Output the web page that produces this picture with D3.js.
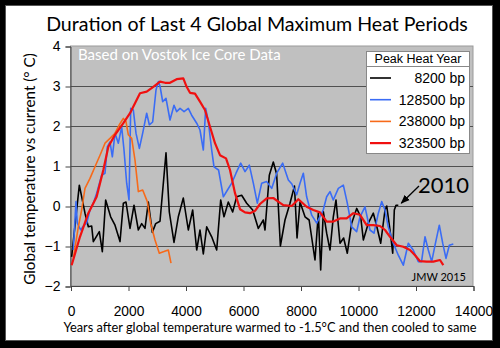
<!DOCTYPE html>
<html>
<head>
<meta charset="utf-8">
<script src="https://cdn.jsdelivr.net/npm/d3@7"></script>
<style>
  body { margin: 0; background: #000; }
  svg { display: block; }
</style>
</head>
<body>
<div id="chart"></div>
<script>
// DATA  [years after warming, temperature vs current]

const seriesNames = ["8200 bp", "128500 bp", "238000 bp", "323500 bp"]
const seriesColors = ["#000000", "#3a6cf5", "#f76a1a", "#f01010"]

const heat8200 = [[40,-1.27],[307,0.52],[504,-0.18],[620,-0.52],[736,-0.5],[794,-0.89],[1003,-0.64],[1107,-1.14],[1223,0.15],[1397,-0.27],[1548,-0.48],[1722,-0.89],[1838,0.07],[1930,0.1],[2070,-0.56],[2209,0.02],[2360,-0.6],[2476,-0.44],[2591,-0.56],[2707,0.1],[2846,-0.66],[2963,-0.44],[3113,-0.38],[3322,1.33],[3437,-0.15],[3600,-0.91],[3750,-0.27],[3924,0.2],[4098,-0.6],[4250,-0.1],[4390,-1.1],[4504,-0.6],[4620,-1.2],[4737,-0.52],[4911,-0.77],[5085,-1.1],[5224,0.15],[5339,-0.27],[5489,0.1],[5640,-0.15],[5780,0.23],[5953,0.27],[6128,0.07],[6337,-0.1],[6533,-0.56],[6707,-0.35],[6765,-0.6],[6915,0.77],[7054,1.1],[7170,0.8],[7300,-1.0],[7461,-0.35],[7635,0.07],[7790,0.5],[7880,-0.8],[7983,0.1],[8157,-0.27],[8300,-0.35],[8504,-1.35],[8620,-0.18],[8702,-1.6],[8794,-0.14],[8910,-0.68],[9026,-1.1],[9141,-0.27],[9235,0.15],[9374,-0.93],[9500,-0.8],[9628,-1.18],[9780,-0.43],[9954,-0.06],[10094,-0.27],[10186,-0.85],[10359,-0.43],[10533,-0.18],[10650,-0.5],[10790,-0.93],[10939,-0.1],[11000,0.0],[11113,-0.6],[11207,-1.18],[11263,-0.1],[11322,0.02],[11402,0.02]]

const heat128500 = [[98,-1.1],[191,0.11],[237,-0.43],[354,-0.6],[450,-0.5],[562,-0.43],[678,-0.1],[794,0.07],[910,0.32],[1084,0.77],[1200,0.82],[1281,1.48],[1374,1.6],[1455,1.23],[1548,1.82],[1664,1.57],[1780,1.98],[1861,1.4],[1954,0.57],[2035,0.15],[2094,2.44],[2185,2.4],[2278,1.82],[2395,1.44],[2511,1.82],[2650,2.32],[2742,2.03],[2858,2.1],[2974,2.9],[3055,3.11],[3113,3.0],[3206,2.61],[3322,2.69],[3461,2.15],[3600,2.52],[3693,2.36],[3810,2.44],[3950,2.36],[4098,2.44],[4214,2.27],[4390,2.07],[4504,1.9],[4620,1.4],[4702,2.44],[4794,2.11],[4911,1.4],[4991,0.98],[5150,0.9],[5316,0.23],[5460,0.4],[5607,0.57],[5757,0.82],[5920,1.07],[6070,0.86],[6220,1.02],[6359,0.57],[6498,0.07],[6650,0.57],[6824,0.61],[6998,0.44],[7172,0.82],[7381,1.07],[7577,0.65],[7700,0.55],[7867,0.28],[7983,0.57],[8098,0.82],[8214,0.23],[8390,-0.23],[8563,-0.43],[8790,-0.1],[8910,0.23],[9026,0.36],[9140,0.15],[9316,0.44],[9490,0.52],[9628,0.07],[9780,-0.52],[9954,-0.64],[10070,-0.27],[10243,-0.02],[10417,-0.6],[10557,-0.68],[10700,-0.2],[10824,0.11],[10940,-0.1],[11050,-0.52],[11228,-0.93],[11402,-1.23],[11576,-1.48],[11750,-0.93],[11920,-1.1],[12098,-1.39],[12210,-1.39],[12330,-0.77],[12446,-1.1],[12563,-1.39],[12680,-0.98],[12828,-0.48],[12946,-0.93],[13061,-1.31],[13176,-0.98],[13315,-0.95]]

const heat238000 = [[98,-1.31],[272,-0.52],[388,-0.1],[504,0.44],[678,0.69],[852,0.98],[1026,1.27],[1200,1.57],[1374,1.69],[1548,1.82],[1698,2.03],[1838,2.19],[1930,2.11],[2012,1.78],[2128,1.69],[2243,1.15],[2360,0.36],[2511,0.4],[2672,0.11],[2789,-0.43],[2939,-0.85],[3089,-1.18],[3252,-1.14],[3402,-1.1],[3496,-1.43]]

const heat323500 = [[40,-1.48],[330,-0.77],[620,-0.18],[910,0.23],[1142,0.9],[1316,1.48],[1548,1.78],[1838,2.07],[2070,2.32],[2417,2.82],[2650,2.86],[2881,2.98],[3113,3.11],[3290,3.08],[3461,3.08],[3693,3.17],[3924,3.19],[4040,2.98],[4157,2.83],[4330,2.81],[4504,2.61],[4678,2.4],[4852,1.98],[5026,1.57],[5200,1.27],[5409,1.19],[5548,0.9],[5722,0.32],[5896,-0.08],[6070,-0.16],[6243,-0.18],[6420,-0.12],[6591,0.05],[6824,0.19],[7054,0.2],[7287,0.08],[7402,0.02],[7694,0],[7925,0.17],[8214,-0.02],[8446,-0.1],[8678,-0.16],[8910,-0.39],[9140,-0.39],[9374,-0.31],[9605,-0.31],[9837,-0.18],[10070,-0.22],[10302,-0.48],[10533,-0.48],[10765,-0.5],[10940,-0.6],[11113,-0.77],[11346,-0.98],[11576,-1.02],[11809,-1.1],[11983,-1.23],[12157,-1.38],[12389,-1.39],[12620,-1.39],[12852,-1.35],[12967,-1.48]]

const allSeries = [heat8200, heat128500, heat238000, heat323500]

const xTicks = [0, 2000, 4000, 6000, 8000, 10000, 12000, 14000]
const yTicks = [-2, -1, 0, 1, 2, 3, 4]

// SVG

const width = 500
const height = 348
const plot = { left: 70.5, right: 473, top: 46, bottom: 286 }

const svg = d3.select("#chart").append("svg").attr("width", width).attr("height", height)

svg.append("rect").attr("x", 0).attr("y", 0).attr("width", width).attr("height", height).attr("fill", "#000")
svg.append("rect").attr("x", 5.5).attr("y", 5.5).attr("width", 487).attr("height", 335)
    .attr("fill", "#fff").attr("stroke", "#555")

// SCALES

const x = d3.scaleLinear().domain([0, 14000]).range([plot.left, plot.right])
const y = d3.scaleLinear().domain([-2, 4]).range([plot.bottom, plot.top])

// PLOT AREA

svg.append("rect").attr("x", plot.left).attr("y", plot.top)
    .attr("width", plot.right - plot.left).attr("height", plot.bottom - plot.top)
    .attr("fill", "#c0c0c0").attr("stroke", "#9a9a9a")

svg.append("g").selectAll("line").data(yTicks.filter(d => d > -2 && d < 4)).enter().append("line")
    .attr("x1", plot.left).attr("x2", plot.right)
    .attr("y1", d => Math.round(y(d)) + 0.5).attr("y2", d => Math.round(y(d)) + 0.5)
    .attr("stroke", "#505050").attr("stroke-width", 1)

// AXES

const yAxisGroup = svg.append("g").attr("transform", `translate(${plot.left}, 0.5)`)
    .call(d3.axisLeft(y).tickValues(yTicks).tickSize(5).tickPadding(5).tickFormat(d3.format("d")))
const xAxisGroup = svg.append("g").attr("transform", `translate(0.5, ${plot.bottom})`)
    .call(d3.axisBottom(x).tickValues(xTicks).tickSize(5).tickPadding(15).tickFormat(d3.format("d")))

for (const g of [yAxisGroup, xAxisGroup]) {
    g.select(".domain").attr("stroke", "#444")
    g.selectAll(".tick line").attr("stroke", "#444")
    g.selectAll("text").attr("font-family", "'Liberation Sans', Arial, sans-serif")
        .attr("font-size", 14).attr("fill", "#000")
}
xAxisGroup.selectAll("text").attr("font-size", 13.8)

// LINES

const line = d3.line().x(d => x(d[0])).y(d => y(d[1]))

svg.append("g").selectAll("path").data(allSeries).enter().append("path")
    .attr("d", line)
    .attr("fill", "none")
    .attr("stroke", (d, i) => seriesColors[i])
    .attr("stroke-width", (d, i) => i == 3 ? 2.2 : 1.6)
    .attr("stroke-linejoin", "round")

// TEXTS

const humanist = "Lato, 'Open Sans', sans-serif"

svg.append("text").attr("x", 257).attr("y", 31).attr("text-anchor", "middle")
    .attr("font-family", humanist).attr("font-size", 19.6)
    .text("Duration of Last 4 Global Maximum Heat Periods")

svg.append("text").attr("x", 78).attr("y", 60)
    .attr("font-family", humanist).attr("font-size", 15).attr("fill", "#fff")
    .text("Based on Vostok Ice Core Data")

svg.append("text").attr("transform", "translate(35, 169) rotate(-90)").attr("text-anchor", "middle")
    .attr("font-family", humanist).attr("font-size", 15.2)
    .text("Global temperature vs current (° C)")

svg.append("text").attr("x", 270).attr("y", 332).attr("text-anchor", "middle")
    .attr("font-family", humanist).attr("font-size", 12.8)
    .text("Years after global temperature warmed to -1.5°C and then cooled to same")

svg.append("text").attr("x", 466).attr("y", 281).attr("text-anchor", "end")
    .attr("font-family", humanist).attr("font-size", 11)
    .text("JMW 2015")

// 2010 ARROW

svg.append("defs").append("marker").attr("id", "head")
    .attr("viewBox", "0 0 10 10").attr("refX", 9).attr("refY", 5)
    .attr("markerWidth", 7).attr("markerHeight", 7).attr("orient", "auto")
    .append("path").attr("d", "M0,1 L10,5 L0,9 Z").attr("fill", "#000")

const last = heat8200[heat8200.length - 1]
svg.append("line").attr("x1", 419).attr("y1", 186)
    .attr("x2", x(last[0]) + 3).attr("y2", y(last[1]) - 2)
    .attr("stroke", "#000").attr("stroke-width", 1.3).attr("marker-end", "url(#head)")

svg.append("text").attr("x", 418).attr("y", 193)
    .attr("font-family", humanist).attr("font-size", 22)
    .text("2010")

// LEGEND

const legend = svg.append("g").attr("transform", "translate(366, 51)")
legend.append("rect").attr("x", 0.5).attr("y", 0.5).attr("width", 103).attr("height", 102)
    .attr("fill", "#fff").attr("stroke", "#888")
legend.append("line").attr("x1", 0.5).attr("x2", 103.5).attr("y1", 15.5).attr("y2", 15.5).attr("stroke", "#888")
legend.append("text").attr("x", 52).attr("y", 12).attr("text-anchor", "middle")
    .attr("font-family", "'Liberation Sans', Arial, sans-serif").attr("font-size", 12.5)
    .text("Peak Heat Year")

const items = legend.selectAll(".item").data(seriesNames).enter().append("g")
    .attr("transform", (d, i) => `translate(0, ${27 + i * 21.7})`)
items.append("line").attr("x1", 4).attr("x2", 25)
    .attr("stroke", (d, i) => seriesColors[i]).attr("stroke-width", (d, i) => i == 3 ? 2.2 : 1.6)
items.append("text").attr("x", 99).attr("y", 5).attr("text-anchor", "end")
    .attr("font-family", "'Liberation Sans', Arial, sans-serif").attr("font-size", 14)
    .text(d => d)
</script>
</body>
</html>
